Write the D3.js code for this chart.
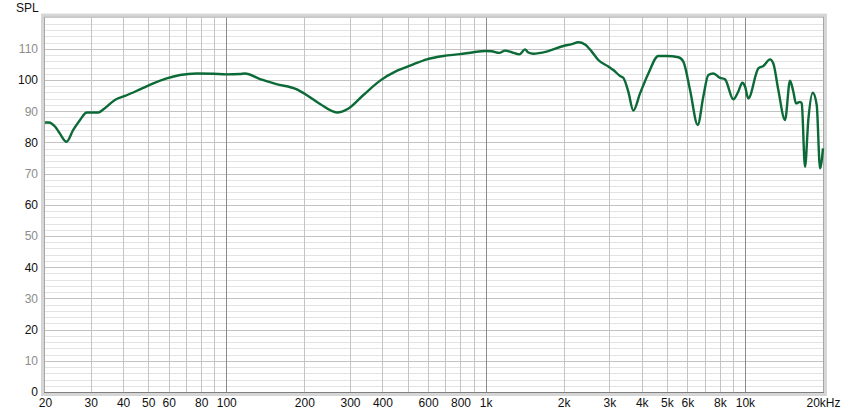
<!DOCTYPE html>
<html>
<head>
<meta charset="utf-8">
<script src="https://cdn.jsdelivr.net/npm/d3@7"></script>
<style>
  body { margin: 0; background: #fff; }
  svg text { font-family: "Liberation Sans", Arial, sans-serif; font-size: 12px; }
</style>
</head>
<body>
<div id="content"></div>
<script>
var width = 844
var height = 416

// measured response, frequency in Hz and level in dB
var freqs = [20, 20.7, 21.9, 22.8, 24.2, 25.7, 27.3, 29.0, 32.1, 33.6, 37.2, 40.7, 46.5, 52.3, 58.9, 66.3, 76.9, 89.1, 100, 113, 118, 135, 156, 187, 204, 230, 267, 295, 338, 392, 454, 526, 593, 687, 797, 897, 995, 1056, 1129, 1188, 1261, 1349, 1419, 1461, 1528, 1721, 1994, 2148, 2278, 2418, 2566, 2720, 2973, 3108, 3300, 3396, 3550, 3712, 3940, 4243, 4635, 4994, 5536, 5788, 6142, 6577, 6911, 7226, 7554, 8018, 8381, 9022, 9430, 9772, 10010, 10304, 11263, 11776, 12494, 12868, 13452, 14274, 14922, 15366, 15740, 16308, 16556, 17046, 17556, 18254, 18914, 19478, 20000];
var spl = [86.4, 86.4, 85.0, 82.9, 80.2, 84.0, 87.2, 89.6, 89.6, 90.6, 93.6, 94.9, 97.0, 98.9, 100.5, 101.6, 102.1, 102.0, 101.8, 101.9, 102.1, 100.3, 98.7, 97.0, 95.2, 92.3, 89.6, 90.8, 95.2, 99.8, 102.9, 105.0, 106.6, 107.7, 108.3, 108.9, 109.3, 109.2, 108.7, 109.4, 108.9, 108.2, 109.8, 108.8, 108.4, 109.1, 110.9, 111.5, 112.1, 111.4, 109.1, 106.4, 104.3, 103.2, 101.3, 100.7, 96.3, 90.2, 95.7, 102.1, 107.7, 107.7, 107.3, 105.9, 96.8, 85.6, 94.7, 101.6, 102.1, 100.7, 100.2, 93.8, 96.3, 99.1, 97.9, 94.1, 103.7, 104.5, 106.6, 105.3, 96.8, 87.2, 99.8, 96.3, 92.5, 93.0, 92.5, 72.2, 87.2, 95.9, 92.0, 71.7, 78.1];

var xTicks = [20, 30, 40, 50, 60, 80, 100, 200, 300, 400, 600, 800, 1000, 2000, 3000, 4000, 5000, 6000, 8000, 10000, 20000];
var yTicks = [0, 10, 20, 30, 40, 50, 60, 70, 80, 90, 100, 110];
var xGrid = [30, 40, 50, 60, 70, 80, 90, 200, 300, 400, 500, 600, 700, 800, 900, 2000, 3000, 4000, 5000, 6000, 7000, 8000, 9000];
var xGridMajor = [100, 1000, 10000];

var plotLeft = 45, plotRight = 823, plotTop = 17.6, plotBottom = 392;

var svg = d3.select("#content").append("svg").attr("width", width).attr("height", height)

var x = d3.scaleLog().domain([20, 20000]).range([plotLeft, plotRight]);
var y = d3.scaleLinear().domain([0, 120]).range([plotBottom, plotTop]);

// frame
svg.append("rect")
    .attr("x", plotLeft - 2.5).attr("y", plotTop - 2.5)
    .attr("width", plotRight - plotLeft + 5).attr("height", plotBottom - plotTop + 5)
    .attr("fill", "none").attr("stroke", "#d6d6d6").attr("stroke-width", 3);

svg.append("rect")
    .attr("x", plotLeft).attr("y", plotTop)
    .attr("width", plotRight - plotLeft).attr("height", plotBottom - plotTop)
    .attr("fill", "#fff");

var grid = svg.append("g");

grid.selectAll(".hgrid")
    .data(d3.range(2, 120, 2))
    .enter()
    .append("line")
    .attr("x1", plotLeft).attr("x2", plotRight)
    .attr("y1", d => Math.round(y(d)) + 0.5)
    .attr("y2", d => Math.round(y(d)) + 0.5)
    .attr("stroke", d => d % 10 === 0 ? "#c2c2c2" : "#e3e3e3");

grid.selectAll(".vgrid")
    .data(xGrid)
    .enter()
    .append("line")
    .attr("x1", d => Math.round(x(d)) + 0.5)
    .attr("x2", d => Math.round(x(d)) + 0.5)
    .attr("y1", plotTop).attr("y2", plotBottom)
    .attr("stroke", "#c4c4c4");

grid.selectAll(".vmajor")
    .data(xGridMajor)
    .enter()
    .append("line")
    .attr("x1", d => Math.round(x(d)) + 0.5)
    .attr("x2", d => Math.round(x(d)) + 0.5)
    .attr("y1", plotTop).attr("y2", plotBottom)
    .attr("stroke", "#8a8a8a");

svg.append("rect")
    .attr("x", plotLeft - 0.5).attr("y", plotTop - 0.5)
    .attr("width", plotRight - plotLeft + 1).attr("height", plotBottom - plotTop + 1)
    .attr("fill", "none").attr("stroke", "#a6a6a6");

svg.append("line")
    .attr("x1", plotLeft - 1).attr("x2", plotRight + 1)
    .attr("y1", plotBottom + 0.5).attr("y2", plotBottom + 0.5)
    .attr("stroke", "#808080");

// axes
var yAxis = d3.axisLeft(y).tickValues(yTicks).tickSize(0).tickPadding(7);
var yg = svg.append("g").attr("transform", `translate(${plotLeft}, 0)`).call(yAxis);
yg.select(".domain").remove();
yg.selectAll("text")
    .style("font-size", "12px")
    .style("font-family", "Liberation Sans, Arial, sans-serif")
    .attr("fill", d => d % 20 === 0 ? "#111" : "#8c8c8c");

var xAxis = d3.axisBottom(x).tickValues(xTicks).tickSize(0).tickPadding(6)
    .tickFormat(d => {
        if (d === 20000) return "20kHz";
        return d >= 1000 ? (d / 1000) + "k" : d;
    });
var xg = svg.append("g").attr("transform", `translate(0, ${plotBottom})`).call(xAxis);
xg.select(".domain").remove();
xg.selectAll("text")
    .style("font-size", "12px")
    .style("font-family", "Liberation Sans, Arial, sans-serif")
    .attr("fill", "#111");

svg.append("text")
    .attr("x", 16)
    .attr("y", 12)
    .attr("fill", "#111")
    .text("SPL");

// response curve
var line = d3.line()
    .x((d, i) => x(freqs[i]))
    .y(d => y(d))
    .curve(d3.curveMonotoneX);

svg.append("path")
    .datum(spl)
    .attr("d", line)
    .attr("fill", "none")
    .attr("stroke", "#0c6a37")
    .attr("stroke-width", 2.4)
    .attr("stroke-linejoin", "round");
</script>
</body>
</html>
